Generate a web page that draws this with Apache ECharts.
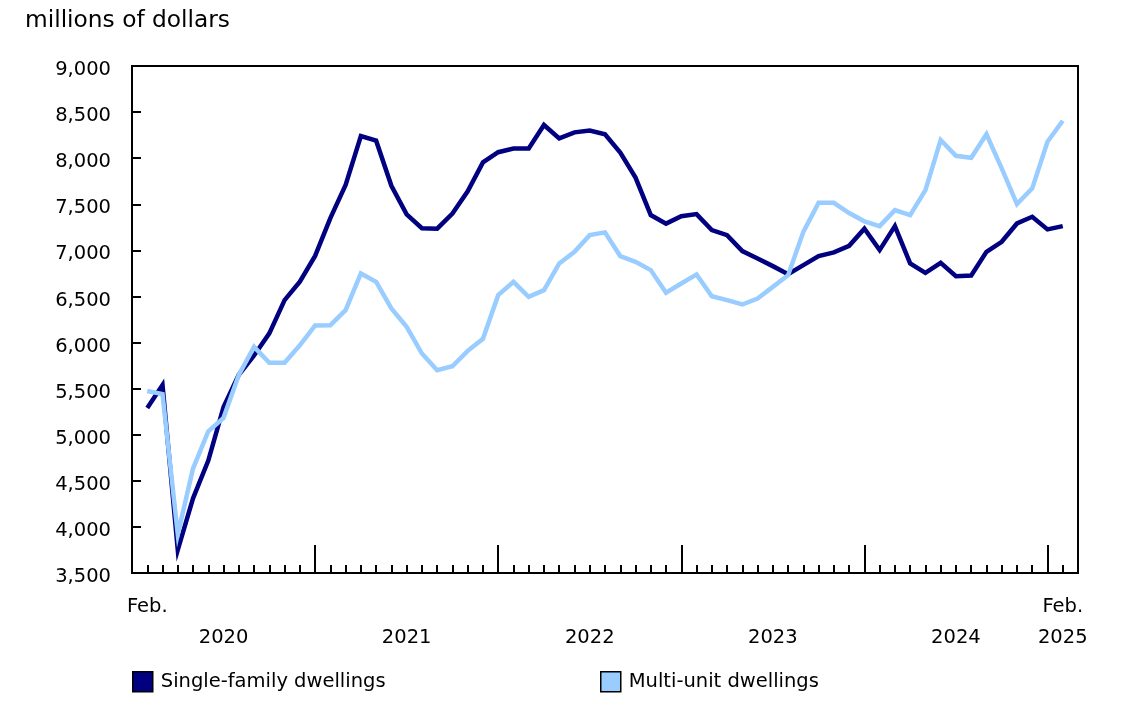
<!DOCTYPE html>
<html>
<head>
<meta charset="utf-8">
<script src="https://cdn.jsdelivr.net/npm/echarts@6/dist/echarts.min.js"></script>
<style>
html,body{margin:0;padding:0;background:#fff;}
#chart{width:1121px;height:707px;}
</style>
</head>
<body>
<div id="chart"></div>
<script>
// Monthly data, Feb. 2020 (index 0) to Feb. 2025 (index 60)
var singleFamily = [5290, 5540, 3750, 4310, 4720, 5300, 5650, 5860, 6100, 6460, 6660,
  6940, 7350, 7710, 8240, 8190, 7700, 7390, 7240, 7235, 7400, 7640, 7955,
  8065, 8105, 8105, 8360, 8215, 8280, 8300, 8260, 8060, 7790, 7383, 7290,
  7370, 7393, 7220, 7165, 6992, 6912, 6829, 6742, 6840, 6938, 6978, 7049,
  7235, 7003, 7263, 6858, 6756, 6865, 6720, 6727, 6984, 7093, 7292, 7364,
  7227, 7263];
var multiUnit = [5475, 5440, 3920, 4633, 5038, 5183, 5650, 5953, 5780, 5780, 5970,
  6185, 6188, 6351, 6750, 6659, 6370, 6170, 5881, 5700, 5743, 5910, 6040,
  6514, 6659, 6496, 6568, 6858, 6984, 7165, 7195, 6938, 6876, 6786, 6540,
  6641, 6739, 6503, 6460, 6413, 6478, 6604, 6731, 7201, 7516, 7516, 7405,
  7315, 7263, 7437, 7383, 7654, 8197, 8026, 8005, 8260, 7889, 7502, 7672,
  8178, 8406];
// x tick labels by month index
var xLabels = {0: 'Feb.\n', 5: '\n2020', 17: '\n2021', 29: '\n2022', 41: '\n2023', 53: '\n2024', 60: 'Feb.\n2025'};
var seriesNames = ['Single-family dwellings', 'Multi-unit dwellings'];
var seriesColors = ['#000080', '#99ccff'];

var FONT = 'DejaVu Sans';
var FS = 19.5;
var chart = echarts.init(document.getElementById('chart'));
function toPairs(arr){ return arr.map(function(v,i){ return [i, v]; }); }

function legendCfg(name, left){
  return {data: [name], left: left, top: 671, padding: 0, itemWidth: 20, itemHeight: 20, itemGap: 10,
    icon: 'rect', textStyle: {fontFamily: FONT, fontSize: FS, color: '#000', padding: [0, 0, 0, 3]},
    itemStyle: {borderColor: '#000', borderWidth: 1.5}};
}

chart.setOption({
  animation: false,
  textStyle: {fontFamily: FONT},
  title: {
    text: 'millions of dollars', left: 25, top: 9, padding: 0,
    textStyle: {fontFamily: FONT, fontSize: 23.3, fontWeight: 'normal', color: '#000'}
  },
  legend: [legendCfg(seriesNames[0], 132), legendCfg(seriesNames[1], 600)],
  grid: {left: 132, right: 43, top: 66, bottom: 134, show: true, borderColor: '#000', borderWidth: 2, backgroundColor: 'transparent'},
  xAxis: [
    {type: 'value', min: -1, max: 61, interval: 1,
     axisLine: {show: true, onZero: false, lineStyle: {color: '#000', width: 2}},
     axisTick: {show: true, inside: true, length: 8, lineStyle: {color: '#000', width: 2}},
     splitLine: {show: false},
     axisLabel: {show: true, margin: 18, fontFamily: FONT, fontSize: FS, color: '#000', lineHeight: 31,
       verticalAlign: 'top',
       formatter: function(v){ return xLabels.hasOwnProperty(v) ? xLabels[v] : ''; }}},
    {type: 'value', min: -1, max: 61, interval: 12, position: 'bottom',
     axisLine: {show: false, onZero: false},
     axisTick: {show: true, inside: true, length: 28, lineStyle: {color: '#000', width: 2}},
     splitLine: {show: false},
     axisLabel: {show: false}}
  ],
  yAxis: {
    type: 'value', min: 3500, max: 9000, interval: 500,
    axisLine: {show: true, onZero: false, lineStyle: {color: '#000', width: 2}},
    axisTick: {show: true, inside: true, length: 9, lineStyle: {color: '#000', width: 2}},
    splitLine: {show: false},
    axisLabel: {margin: 21, color: '#000',
      formatter: function(v){ return '{a|' + v.toLocaleString('en-US') + '}'; },
      rich: {a: {fontFamily: FONT, fontSize: FS, color: '#000', padding: [8, 0, 0, 0]}}}
  },
  series: [
    {name: seriesNames[0], type: 'line', data: toPairs(singleFamily), showSymbol: false, symbol: 'none',
     color: seriesColors[0], lineStyle: {width: 4.5, color: seriesColors[0], join: 'miter'}, z: 3},
    {name: seriesNames[1], type: 'line', data: toPairs(multiUnit), showSymbol: false, symbol: 'none',
     color: seriesColors[1], lineStyle: {width: 4.5, color: seriesColors[1], join: 'miter'}, z: 4}
  ]
});
</script>
</body>
</html>
